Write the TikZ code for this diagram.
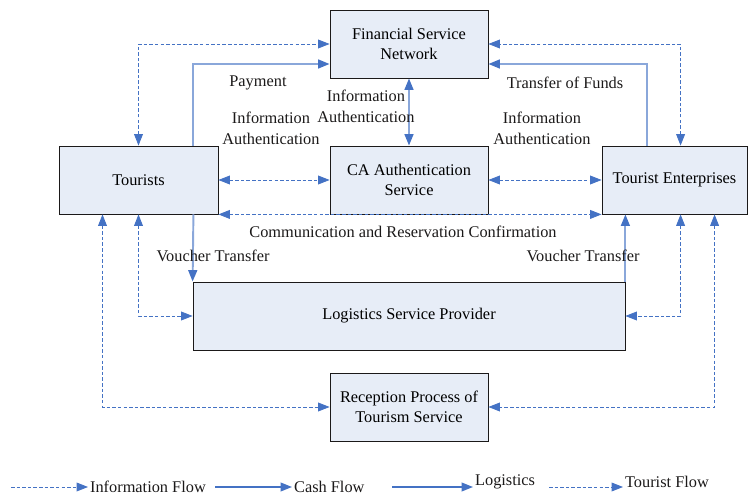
\documentclass[tikz,border=0pt]{standalone}
\usepackage{fontspec}
\setmainfont{Liberation Serif}
\usepackage{xcolor}
\usepackage{tikz}
\usetikzlibrary{positioning,arrows.meta,calc}
\definecolor{ink}{HTML}{1B1919}
\definecolor{boxFill}{HTML}{E7EDF7}
\definecolor{flowBlue}{HTML}{4472C4}
\definecolor{cashBlue}{HTML}{8AA7DA}
\tikzset{
  unit/.style={draw=ink, fill=boxFill, line width=0.5pt, align=center, inner sep=2pt,
    minimum height=1.36cm, font=\fontsize{9.3}{11.5}\selectfont},
  lbl/.style={font=\fontsize{9.3}{11.5}\selectfont, text=ink, inner sep=1pt},
  info/.style={flowBlue, line width=0.5pt, dash pattern=on 2pt off 1.2pt},
  cash/.style={cashBlue, line width=1.1pt},
  tip/.style={-{Triangle[length=6.5pt,width=5pt,color=flowBlue]}},
  tips/.style={{Triangle[length=6.5pt,width=5pt,color=flowBlue]}-{Triangle[length=6.5pt,width=5pt,color=flowBlue]}},
}

\begin{document}
\begin{tikzpicture}[x=0.02cm, y=-0.02cm]
\useasboundingbox (0,0) rectangle (748,496);
\node[unit, minimum width=3.16cm] (fin) at (409,44) {Financial Service\\ Network};
\node[unit, minimum width=3.16cm] (ca) at (409,180) {CA Authentication\\ Service};
\node[unit, minimum width=3.18cm] (tour) at (138.5,180) {Tourists};
\node[unit, minimum width=2.9cm] (ent) at (674.5,180) {Tourist Enterprises};
\node[unit, minimum width=8.64cm] (logi) at (409,316) {Logistics Service Provider};
\node[unit, minimum width=3.16cm] (rec) at (409,407) {Reception Process of\\ Tourism Service};
\draw[info, tips] (tour.north) |- (fin.west);
\draw[cash, tip] ($(tour.north east)+(-25,0)$) |- ($(fin.west)+(0,20)$);
\draw[info, tips] ($(ent.north west)+(79,0)$) |- (fin.east);
\draw[cash, tip] ($(ent.north west)+(45,0)$) |- ($(fin.east)+(0,20)$);
\draw[cash, tips] (fin.south) -- (ca.north);
\draw[info, tips] (tour.east) -- (ca.west);
\draw[info, tips] (ca.east) -- (ent.west);
\draw[info, tips] (tour.south east) -- (ent.south west);
\draw[info, tips] ($(tour.south)+(-36,0)$) |- (rec.west);
\draw[info, tips] (tour.south) |- (logi.west);
\draw[cash, tip] ($(tour.south east)+(-25,0)$) -- (logi.north west);
\draw[cash, tip] (logi.north east) -- (logi.north east |- ent.south);
\draw[info, tips] ($(ent.south west)+(79,0)$) |- (logi.east);
\draw[info, tips] ($(ent.south west)+(113,0)$) |- (rec.east);
\node[lbl] at (258,83) {Payment};
\node[lbl, align=center] at (271,128.5) {Information\\[0.5pt] Authentication};
\node[lbl, align=center] at (366,106.5) {Information\\[0.5pt] Authentication};
\node[lbl] at (565,83) {Transfer of Funds};
\node[lbl, align=center] at (542,128.5) {Information\\[0.5pt] Authentication};
\node[lbl] at (403,232) {Communication and Reservation Confirmation};
\node[lbl] at (213,256) {Voucher Transfer};
\node[lbl] at (583,256) {Voucher Transfer};
\coordinate (k1) at (11,487);
\node[lbl, anchor=west] (t1) at (88,487) {Information Flow};
\draw[info, tip] (k1) -- (t1.west);
\coordinate (k2) at (215,487);
\node[lbl, anchor=west] (t2) at (292,487) {Cash Flow};
\draw[flowBlue, line width=0.8pt, tip] (k2) -- (t2.west);
\coordinate (k3) at (392,487);
\node[lbl, anchor=west] (t3) at (473,482) {Logistics};
\draw[flowBlue, line width=0.8pt, tip] (k3) -- (k3 -| t3.west);
\coordinate (k4) at (549,487);
\node[lbl, anchor=west] (t4) at (623,482) {Tourist Flow};
\draw[info, tip] (k4) -- (k4 -| t4.west);
\end{tikzpicture}
\end{document}
